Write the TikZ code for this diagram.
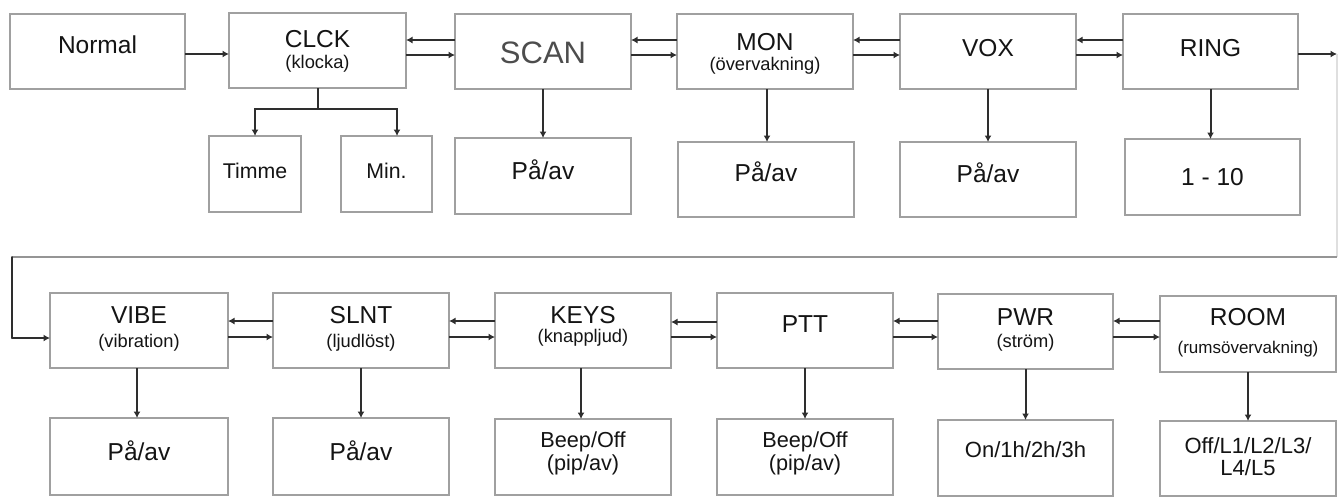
\documentclass[tikz,border=0pt]{standalone}
\usepackage{fontspec}
\setmainfont{Liberation Sans}
\usetikzlibrary{arrows.meta}
\definecolor{boxgray}{HTML}{A0A0A0}
\definecolor{lin}{HTML}{2E2E2E}
\definecolor{txt}{HTML}{141414}
\definecolor{loopgray}{HTML}{959595}
\begin{document}
\begin{tikzpicture}[x=1pt,y=-1pt,
  bx/.style={draw=boxgray, line width=1.5pt, inner sep=0pt, outer sep=0pt, fill=white},
  conn/.style={draw=lin, line width=2pt},
  ar/.style={conn, -{Latex[length=6.5pt,width=7pt]}},
  al/.style={conn, {Latex[length=6.5pt,width=7pt]}-},
  tx/.style={inner sep=0pt, anchor=base, text=txt},
  tbig/.style={tx, font=\fontsize{24.5}{28}\selectfont},
  tsub/.style={tx, font=\fontsize{18.3}{21}\selectfont},
  tmid/.style={tx, font=\fontsize{21.7}{25}\selectfont}]
\fill[white] (0,0) rectangle (1340,498);
\useasboundingbox (0,0) rectangle (1340,498);

% ---------- top row ----------
\node[bx, minimum width=175pt, minimum height=75pt] (normal) at (97.5,51.5) {};
\node[bx, minimum width=177pt, minimum height=75pt] (clck) at (317.5,50.5) {};
\node[bx, minimum width=176pt, minimum height=75pt] (scan) at (543,51.5) {};
\node[bx, minimum width=176pt, minimum height=75pt] (mon) at (765,51.5) {};
\node[bx, minimum width=176pt, minimum height=75pt] (vox) at (988,51.5) {};
\node[bx, minimum width=175pt, minimum height=75pt] (ring) at (1210.5,51.5) {};

\node[bx, minimum width=92pt, minimum height=76pt] (timme) at (255,174) {};
\node[bx, minimum width=91pt, minimum height=76pt] (min) at (386.5,174) {};
\node[bx, minimum width=176pt, minimum height=76pt] (scanv) at (543,176) {};
\node[bx, minimum width=176pt, minimum height=75pt] (monv) at (766,179.5) {};
\node[bx, minimum width=176pt, minimum height=75pt] (voxv) at (988,179.5) {};
\node[bx, minimum width=175pt, minimum height=76pt] (ringv) at (1212.5,177) {};

% ---------- bottom row ----------
\node[bx, minimum width=178pt, minimum height=75pt] (vibe) at (139,330.5) {};
\node[bx, minimum width=176pt, minimum height=75pt] (slnt) at (361,330.5) {};
\node[bx, minimum width=176pt, minimum height=75pt] (keys) at (583,330.5) {};
\node[bx, minimum width=176pt, minimum height=75pt] (ptt) at (805,330.5) {};
\node[bx, minimum width=175pt, minimum height=75pt] (pwr) at (1025.5,331.5) {};
\node[bx, minimum width=176pt, minimum height=76pt] (room) at (1248,334) {};

\node[bx, minimum width=178pt, minimum height=77pt] (vibev) at (139,456.5) {};
\node[bx, minimum width=176pt, minimum height=77pt] (slntv) at (361,456.5) {};
\node[bx, minimum width=176pt, minimum height=76pt] (keysv) at (583,457) {};
\node[bx, minimum width=176pt, minimum height=76pt] (pttv) at (805,457) {};
\node[bx, minimum width=175pt, minimum height=76pt] (pwrv) at (1025.5,458) {};
\node[bx, minimum width=176pt, minimum height=75pt] (roomv) at (1248,458.5) {};

% ---------- texts ----------
\node[tbig] (normalT) at (97.5,53) {Normal};
\node[tbig] (clckT) at (317.5,47) {CLCK};
\node[tsub] (clckS) at (317.5,68) {(klocka)};
\node[tx, font=\fontsize{31}{36}\selectfont, text=lin!85] (scanT) at (543,63) {SCAN};
\node[tbig] (monT) at (765,50) {MON};
\node[tsub] (monS) at (765,70) {(övervakning)};
\node[tbig] (voxT) at (988,56) {VOX};
\node[tbig] (ringT) at (1210.5,56) {RING};

\node[tx, font=\fontsize{21.3}{25}\selectfont] (timmeT) at (255,178) {Timme};
\node[tx, font=\fontsize{21.3}{25}\selectfont] (minT) at (386.5,178) {Min.};
\node[tbig] (scanvT) at (543,179) {På/av};
\node[tbig] (monvT) at (766,181) {På/av};
\node[tbig] (voxvT) at (988,182) {På/av};
\node[tbig] (ringvT) at (1212.5,185) {1 - 10};

\node[tbig] (vibeT) at (139,323) {VIBE};
\node[tsub] (vibeS) at (139,347) {(vibration)};
\node[tbig] (slntT) at (361,323) {SLNT};
\node[tsub] (slntS) at (361,347) {(ljudlöst)};
\node[tbig] (keysT) at (583,323) {KEYS};
\node[tsub] (keysS) at (583,342) {(knappljud)};
\node[tbig] (pttT) at (805,332) {PTT};
\node[tbig] (pwrT) at (1025.5,325) {PWR};
\node[tsub] (pwrS) at (1025.5,347) {(ström)};
\node[tbig] (roomT) at (1248,325) {ROOM};
\node[tx, font=\fontsize{17}{20}\selectfont] (roomS) at (1248,353) {(rumsövervakning)};

\node[tbig] (vibevT) at (139,460) {På/av};
\node[tbig] (slntvT) at (361,460) {På/av};
\node[tmid] (keysvT) at (583,447) {Beep/Off};
\node[tmid] (keysvS) at (583,470) {(pip/av)};
\node[tmid] (pttvT) at (805,447) {Beep/Off};
\node[tmid] (pttvS) at (805,470) {(pip/av)};
\node[tx, font=\fontsize{22}{26}\selectfont] (pwrvT) at (1025.5,457) {On/1h/2h/3h};
\node[tx, font=\fontsize{22}{26}\selectfont] (roomvT) at (1248,453) {Off/L1/L2/L3/};
\node[tx, font=\fontsize{22}{26}\selectfont] (roomvS) at (1248,475) {L4/L5};

% ---------- horizontal connectors, top row ----------
\draw[ar] (normal.east |- 0,54) -- (clck.west |- 0,54);
\draw[al] (clck.east |- 0,40) -- (scan.west |- 0,40);
\draw[ar] (clck.east |- 0,55) -- (scan.west |- 0,55);
\draw[al] (scan.east |- 0,40) -- (mon.west |- 0,40);
\draw[ar] (scan.east |- 0,55) -- (mon.west |- 0,55);
\draw[al] (mon.east |- 0,40) -- (vox.west |- 0,40);
\draw[ar] (mon.east |- 0,55) -- (vox.west |- 0,55);
\draw[al] (vox.east |- 0,40) -- (ring.west |- 0,40);
\draw[ar] (vox.east |- 0,55) -- (ring.west |- 0,55);

% ---------- vertical connectors, top row ----------
\coordinate (cb) at (317.5,109);
\draw[conn] (clck.south) -- (cb);
\draw[ar] (cb) -| (timme.north);
\draw[ar] (cb) -| ([xshift=10.5pt]min.north);
\draw[ar] (scan.south) -- (scan.south |- scanv.north);
\draw[ar] ([xshift=2pt]mon.south) -- ([xshift=2pt]mon.south |- monv.north);
\draw[ar] (vox.south) -- (vox.south |- voxv.north);
\draw[ar] (ring.south) -- (ring.south |- ringv.north);

% ---------- return loop ----------
\coordinate (r1) at (1337,54);
\coordinate (r2) at (1337,257);
\coordinate (l1) at (12,257);
\coordinate (l2) at (12,338);
\draw[ar] (ring.east |- r1) -- (r1);
\draw[draw=gray!25, line width=1.3pt] (r1) -- (r2);
\draw[draw=loopgray, line width=1.6pt] (r2) -- (l1);
\draw[conn, line cap=round] (l1) -- (l2);
\draw[ar] (l2) -- (vibe.west |- l2);

% ---------- horizontal connectors, bottom row ----------
\draw[al] (vibe.east |- 0,321) -- (slnt.west |- 0,321);
\draw[ar] (vibe.east |- 0,337) -- (slnt.west |- 0,337);
\draw[al] (slnt.east |- 0,321) -- (keys.west |- 0,321);
\draw[ar] (slnt.east |- 0,337) -- (keys.west |- 0,337);
\draw[al] (keys.east |- 0,322) -- (ptt.west |- 0,322);
\draw[ar] (keys.east |- 0,337) -- (ptt.west |- 0,337);
\draw[al] (ptt.east |- 0,321) -- (pwr.west |- 0,321);
\draw[ar] (ptt.east |- 0,337) -- (pwr.west |- 0,337);
\draw[al] (pwr.east |- 0,321) -- (room.west |- 0,321);
\draw[ar] (pwr.east |- 0,337) -- (room.west |- 0,337);

% ---------- vertical connectors, bottom row ----------
\draw[ar] ([xshift=-2pt]vibe.south) -- ([xshift=-2pt]vibe.south |- vibev.north);
\draw[ar] (slnt.south) -- (slnt.south |- slntv.north);
\draw[ar] ([xshift=-2pt]keys.south) -- ([xshift=-2pt]keys.south |- keysv.north);
\draw[ar] (ptt.south) -- (ptt.south |- pttv.north);
\draw[ar] (pwr.south) -- (pwr.south |- pwrv.north);
\draw[ar] (room.south) -- (room.south |- roomv.north);
\end{tikzpicture}
\end{document}
